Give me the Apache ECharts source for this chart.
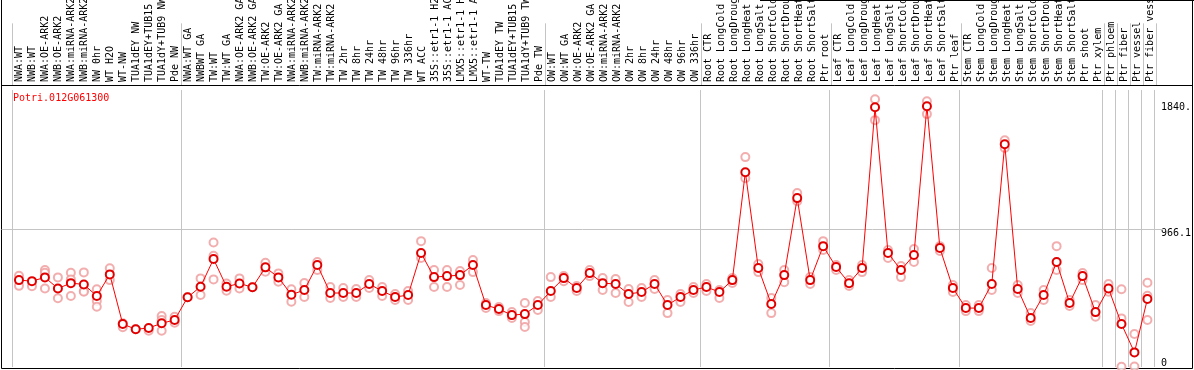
<!DOCTYPE html>
<html>
<head>
<meta charset="utf-8">
<script src="https://cdn.jsdelivr.net/npm/echarts@6/dist/echarts.min.js"></script>
<style>
  html, body { margin: 0; padding: 0; background: #fff; }
  #chart { width: 1194px; height: 370px; }
</style>
</head>
<body>
<div id="chart"></div>
<script>
const title = 'Potri.012G061300'

const categories = [
  'NWA:WT', 'NWB:WT', 'NWA:OE-ARK2', 'NWB:OE-ARK2', 'NWA:miRNA-ARK2', 'NWB:miRNA-ARK2',
  'NW 0hr', 'WT H2O', 'WT-NW', 'TUA1dEY NW', 'TUA1dEY+TUB15 NW', 'TUA1dY+TUB9 NW', 'Pde NW',
  'NWA:WT GA', 'NWBWT GA', 'TW:WT', 'TW:WT GA', 'NWA:OE-ARK2 GA', 'NWB:OE-ARK2 GA',
  'TW:OE-ARK2', 'TW:OE-ARK2 GA', 'NWA:miRNA-ARK2 GA', 'NWB:miRNA-ARK2 GA', 'TW:miRNA-ARK2',
  'TW:miRNA-ARK2 GA',
  'TW 2hr', 'TW 8hr', 'TW 24hr', 'TW 48hr', 'TW 96hr', 'TW 336hr', 'WT ACC',
  '35S::etr1-1 H2O', '35S::etr1-1 ACC', 'LMX5::etr1-1 H2O', 'LMX5::etr1-1 ACC',
  'WT-TW', 'TUA1dEY TW', 'TUA1dEY+TUB15 TW', 'TUA1dY+TUB9 TW', 'Pde TW',
  'OW:WT', 'OW:WT GA', 'OW:OE-ARK2', 'OW:OE-ARK2 GA', 'OW:miRNA-ARK2', 'OW:miRNA-ARK2 GA',
  'OW 2hr', 'OW 8hr', 'OW 24hr', 'OW 48hr', 'OW 96hr', 'OW 336hr',
  'Root CTR', 'Root LongCold', 'Root LongDrought', 'Root LongHeat', 'Root LongSalt',
  'Root ShortCold', 'Root ShortDrought', 'Root ShortHeat', 'Root ShortSalt', 'Ptr root',
  'Leaf CTR', 'Leaf LongCold', 'Leaf LongDrought', 'Leaf LongHeat', 'Leaf LongSalt',
  'Leaf ShortCold', 'Leaf ShortDrought', 'Leaf ShortHeat', 'Leaf ShortSalt', 'Ptr leaf',
  'Stem CTR', 'Stem LongCold', 'Stem LongDrought', 'Stem LongHeat', 'Stem LongSalt',
  'Stem ShortCold', 'Stem ShortDrought', 'Stem ShortHeat', 'Stem ShortSalt', 'Ptr shoot',
  'Ptr xylem', 'Ptr phloem', 'Ptr fiber', 'Ptr vessel', 'Ptr fiber vessel'
]

// mean expression per sample
const means = [
  606, 599, 625, 548, 585, 576, 495, 646, 300, 263, 272, 305, 328,
  486, 560, 753, 560, 583, 556, 695, 625, 504, 537, 711, 516,
  516, 516, 579, 530, 488, 502, 795, 627, 634, 641, 711,
  432, 404, 362, 369, 432,
  530, 620, 551, 655, 585, 579, 509, 523, 579, 432, 488, 537,
  558, 523, 606, 1359, 690, 439, 641, 1178, 606, 843,
  697, 585, 690, 1812, 795, 676, 781, 1819, 830, 551,
  411, 411, 579, 1554, 544, 342, 502, 732, 446, 634,
  383, 548, 300, 102, 474
]

// individual replicates per sample
const reps = [
  [636, 566], [564], [676, 657, 548], [625, 479], [657, 611, 495], [660, 530, 525],
  [542, 460, 420], [688, 606], [277, 305], [263], [253], [355, 328, 253], [309, 351],
  [486], [618, 502], [869, 776, 611], [583, 532], [618, 548], [556], [727, 664],
  [653, 595], [542, 455], [586, 488], [732, 676], [558, 481],
  [551, 488], [544, 488], [606, 551], [558, 495], [509, 467], [530, 467], [878, 760],
  [676, 558], [676, 558], [669, 572], [746, 662],
  [446, 411], [418, 390], [383, 342], [446, 314, 279], [460, 397],
  [627, 488], [634, 599], [565, 530], [676, 634], [620, 537], [613, 516],
  [544, 453], [551, 488], [606, 544], [467, 376], [509, 453], [558, 516],
  [579, 530], [537, 481], [620, 586], [1464, 1317], [718, 662], [481, 376],
  [676, 592], [1213, 1157], [627, 579], [878, 816],
  [711, 676], [606, 565], [711, 662], [1868, 1722], [816, 760], [704, 627],
  [823, 732], [1854, 1764], [843, 809], [572, 523],
  [432, 390], [432, 390], [690, 537], [1582, 1527], [572, 516], [376, 321],
  [537, 467], [843, 676], [467, 425], [655, 606],
  [432, 351], [579, 525], [542, 339, 2], [230, 4], [588, 497, 328]
]

// indices where a group separator line starts
const separators = [0, 13, 41, 53, 63, 73, 84, 85, 86, 87, 88]

const yMax = 1932.2
const yLabels = [0, 966.1, 1840]
const midLine = 966.1

const mono = 'DejaVu Sans Mono'
const gray = '#c4c4c4'
const sepLine = {
  show: true,
  interval: (i) => separators.includes(i),
  lineStyle: { color: gray, width: 1 },
}

const chart = echarts.init(document.getElementById('chart'))

chart.setOption({
  animation: false,
  backgroundColor: '#fff',
  title: {
    text: title,
    left: 8,
    top: 88,
    textStyle: { color: '#ff0000', fontFamily: mono, fontSize: 10, fontWeight: 'normal' },
  },
  grid: [
    { left: 12.5, right: 37.5, top: 0, height: 85 },
    { left: 12.5, right: 37.5, top: 90, bottom: 3 },
  ],
  xAxis: [
    {
      type: 'category',
      gridIndex: 0,
      data: categories,
      position: 'bottom',
      axisLine: { show: false },
      axisTick: { show: false },
      axisLabel: {
        inside: true,
        rotate: 90,
        interval: 0,
        margin: 3,
        color: '#000',
        fontFamily: mono,
        fontSize: 10,
      },
      splitLine: sepLine,
    },
    {
      type: 'category',
      gridIndex: 1,
      data: categories,
      axisLine: { show: false },
      axisTick: { show: false },
      axisLabel: { show: false },
      splitLine: sepLine,
    },
  ],
  yAxis: [
    { type: 'value', gridIndex: 0, show: false },
    {
      type: 'value',
      gridIndex: 1,
      position: 'right',
      min: 0,
      max: yMax,
      interval: yMax / 2,
      axisLine: { show: false },
      axisTick: { show: false },
      splitLine: { show: false },
      axisLabel: {
        customValues: yLabels,
        margin: 7,
        color: '#000',
        fontFamily: mono,
        fontSize: 10,
        formatter: (v) => {
          if (v === 0) return '{up|0}'
          if (Math.round(v) === 1840) return '{dn|1840.}'
          return '{dn|966.1}'
        },
        rich: {
          up: { padding: [0, 0, 8, 0], fontFamily: mono, fontSize: 10, color: '#000' },
          dn: { padding: [9, 0, 0, 0], fontFamily: mono, fontSize: 10, color: '#000' },
        },
      },
    },
  ],
  series: [
    {
      type: 'scatter',
      xAxisIndex: 1,
      yAxisIndex: 1,
      clip: false,
      symbol: 'emptyCircle',
      symbolSize: 8,
      itemStyle: { color: '#ef9a9a', borderColor: '#ef9a9a', borderWidth: 1.3 },
      data: reps.flatMap((r, i) => r.map((v) => [i, v])),
      z: 2,
    },
    {
      type: 'line',
      xAxisIndex: 1,
      yAxisIndex: 1,
      data: means,
      symbol: 'emptyCircle',
      symbolSize: 8,
      lineStyle: { color: '#ff0000', width: 1 },
      itemStyle: { color: '#e00000', borderColor: '#e00000', borderWidth: 1.6 },
      z: 3,
    },
  ],
})

// frame and the mid gridline, which runs from the frame to the tick label
const midY = Math.round(chart.convertToPixel({ yAxisIndex: 1 }, midLine)) + 0.5
chart.setOption({
  graphic: [
    { type: 'line', z: 1, shape: { x1: 1.5, y1: midY, x2: 1163, y2: midY }, style: { stroke: gray, lineWidth: 1 }, silent: true },
    { type: 'rect', shape: { x: 1.5, y: 85.5, width: 1191, height: 283 }, style: { fill: null, stroke: '#000', lineWidth: 1 }, silent: true },
    { type: 'line', shape: { x1: 1.5, y1: 0, x2: 1.5, y2: 86 }, style: { stroke: '#000', lineWidth: 1 }, silent: true },
    { type: 'line', shape: { x1: 1192.5, y1: 0, x2: 1192.5, y2: 86 }, style: { stroke: '#000', lineWidth: 1 }, silent: true },
    { type: 'line', shape: { x1: 760, y1: 0.5, x2: 1194, y2: 0.5 }, style: { stroke: '#000', lineWidth: 1 }, silent: true },
  ],
})
</script>
</body>
</html>
